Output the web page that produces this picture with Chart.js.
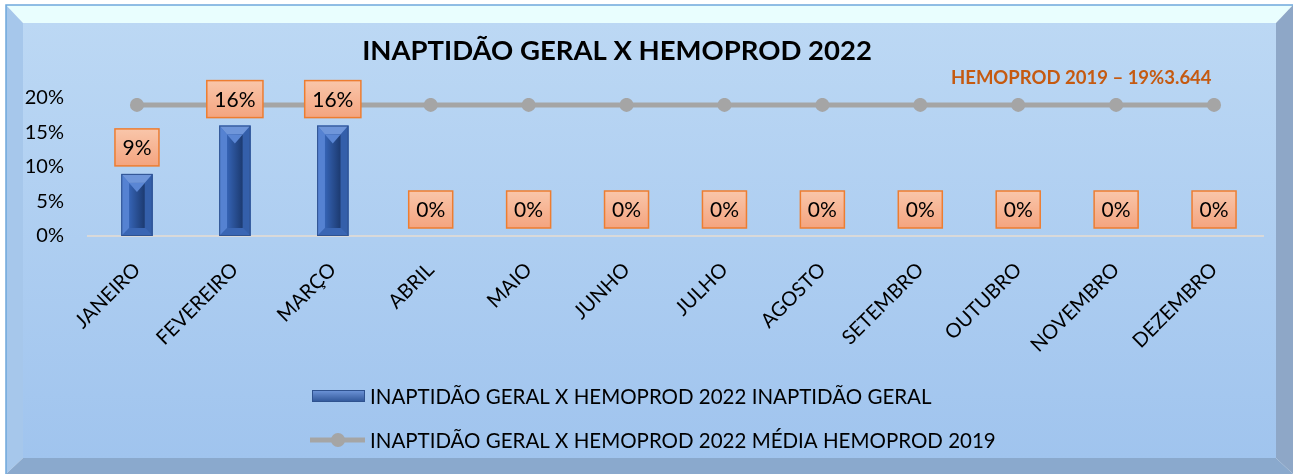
<!DOCTYPE html>
<html>
<head>
<meta charset="utf-8">
<script src="https://cdn.jsdelivr.net/npm/chart.js@4.4.1/dist/chart.umd.min.js"></script>
<style>
  html, body { margin: 0; padding: 0; background: #fff; }
  canvas { display: block; }
</style>
</head>
<body>
<canvas id="chart" width="1293" height="474"></canvas>
<script>
// data
const months = ['JANEIRO', 'FEVEREIRO', 'MARÇO', 'ABRIL', 'MAIO', 'JUNHO', 'JULHO', 'AGOSTO', 'SETEMBRO', 'OUTUBRO', 'NOVEMBRO', 'DEZEMBRO'];
const inaptidaoGeral = [9, 16, 16, 0, 0, 0, 0, 0, 0, 0, 0, 0];
const mediaHemoprod2019 = [19, 19, 19, 19, 19, 19, 19, 19, 19, 19, 19, 19];
const chartTitle = 'INAPTIDÃO GERAL X HEMOPROD 2022';
const noteText = 'HEMOPROD 2019 – 19%3.644';
const barLabel = 'INAPTIDÃO GERAL X HEMOPROD 2022 INAPTIDÃO GERAL';
const lineLabel = 'INAPTIDÃO GERAL X HEMOPROD 2022 MÉDIA HEMOPROD 2019';

const FONT = 'Lato, "Open Sans", sans-serif';

// bevelled frame + face behind the chart
const framePlugin = {
  id: 'frame',
  beforeDraw(chart) {
    const c = chart.ctx;
    const W = chart.width, H = chart.height;
    const L = 6, T = 5, IL = 23, IT = 23, IR = 1276, IB = 458;
    c.save();
    c.fillStyle = '#ffffff';
    c.fillRect(0, 0, W, H);
    // face
    const g = c.createLinearGradient(0, IT, 0, IB);
    g.addColorStop(0, '#BCD8F4');
    g.addColorStop(1, '#A0C4EE');
    c.fillStyle = g;
    c.fillRect(IL, IT, IR - IL, IB - IT);
    // top bevel
    c.fillStyle = '#E9FEFE';
    c.beginPath(); c.moveTo(L, T); c.lineTo(W, T); c.lineTo(IR, IT); c.lineTo(IL, IT); c.closePath(); c.fill();
    // left bevel
    c.fillStyle = '#A6C7EB';
    c.beginPath(); c.moveTo(L, T); c.lineTo(IL, IT); c.lineTo(IL, IB); c.lineTo(L, H); c.closePath(); c.fill();
    // right bevel
    c.fillStyle = '#8EA7C7';
    c.beginPath(); c.moveTo(W, T); c.lineTo(W, H); c.lineTo(IR, IB); c.lineTo(IR, IT); c.closePath(); c.fill();
    // bottom bevel
    c.fillStyle = '#8AA9CD';
    c.beginPath(); c.moveTo(L, H); c.lineTo(IL, IB); c.lineTo(IR, IB); c.lineTo(W, H); c.closePath(); c.fill();
    // outer edge
    c.strokeStyle = '#6FA8DC';
    c.lineWidth = 1.5;
    c.beginPath(); c.moveTo(L, H); c.lineTo(L, T); c.lineTo(W, T); c.stroke();
    c.restore();
  }
};

function drawBevelBar(c, left, top, right, bottom) {
  const w = right - left, h = bottom - top;
  if (h < 2) return;
  const ix = Math.min(8, w / 4), iy = Math.min(8, h / 3);
  const il = left + ix, ir = right - ix, it = top + iy + 1, ib = bottom - iy;
  c.save();
  c.fillStyle = '#4472C4';
  c.fillRect(left, top, w, h);
  // top facet
  c.fillStyle = '#6F96DA';
  c.beginPath(); c.moveTo(left, top); c.lineTo(right, top); c.lineTo(ir, it); c.lineTo(il, it); c.closePath(); c.fill();
  // left facet
  c.fillStyle = '#5582D2';
  c.beginPath(); c.moveTo(left, top); c.lineTo(il, it); c.lineTo(il, ib); c.lineTo(left, bottom); c.closePath(); c.fill();
  // right facet
  c.fillStyle = '#345FAA';
  c.beginPath(); c.moveTo(right, top); c.lineTo(right, bottom); c.lineTo(ir, ib); c.lineTo(ir, it); c.closePath(); c.fill();
  // bottom facet
  c.fillStyle = '#3A66B4';
  c.beginPath(); c.moveTo(left, bottom); c.lineTo(il, ib); c.lineTo(ir, ib); c.lineTo(right, bottom); c.closePath(); c.fill();
  // inner
  const g = c.createLinearGradient(il, 0, ir, 0);
  g.addColorStop(0, '#3563B4');
  g.addColorStop(1, '#1C3A70');
  c.fillStyle = g;
  c.fillRect(il, it, ir - il, ib - it);
  c.fillStyle = '#5A86D4';
  c.beginPath(); c.moveTo(il, it); c.lineTo(ir, it); c.lineTo((il + ir) / 2, it + Math.min(9, (ib - it) / 2)); c.closePath(); c.fill();
  c.strokeStyle = '#2F528F';
  c.lineWidth = 1;
  c.strokeRect(left + 0.5, top + 0.5, w - 1, h - 1);
  c.restore();
}

// bevel on top of the plain bars drawn by the library
const bevelPlugin = {
  id: 'bevel',
  afterDatasetDraw(chart, args) {
    if (args.index !== 0) return;
    const c = chart.ctx;
    args.meta.data.forEach(el => {
      const p = el.getProps(['x', 'y', 'width', 'base'], true);
      drawBevelBar(c, p.x - p.width / 2, p.y, p.x + p.width / 2, p.base);
    });
  }
};

// orange boxed value labels, title, note and legend
const labelsPlugin = {
  id: 'labels',
  afterDraw(chart) {
    const c = chart.ctx;
    c.save();
    // value labels
    const meta = chart.getDatasetMeta(0);
    c.font = '21px ' + FONT;
    c.textAlign = 'center';
    c.textBaseline = 'middle';
    meta.data.forEach((el, i) => {
      const txt = inaptidaoGeral[i] + '%';
      const bw = c.measureText(txt).width + 15, bh = 37;
      const cx = el.x, by = el.y - 8;
      const g = c.createLinearGradient(0, by - bh, 0, by);
      g.addColorStop(0, '#F9C6AA');
      g.addColorStop(1, '#F4A47F');
      c.fillStyle = g;
      c.fillRect(cx - bw / 2, by - bh, bw, bh);
      c.strokeStyle = '#ED7D31';
      c.lineWidth = 1.5;
      c.strokeRect(cx - bw / 2, by - bh, bw, bh);
      c.fillStyle = '#000';
      c.fillText(txt, cx, by - bh / 2 + 1);
    });
    // title
    c.font = 'bold 27.5px ' + FONT;
    c.fillStyle = '#000';
    c.fillText(chartTitle, 617, 51);
    // note
    c.font = 'bold 18.5px ' + FONT;
    c.fillStyle = '#C55A11';
    c.textAlign = 'left';
    c.fillText(noteText, 951, 78);
    // legend
    c.font = '20.5px ' + FONT;
    c.fillStyle = '#000';
    const lx = 312, tx = 370, y1 = 396, y2 = 440;
    const lg = c.createLinearGradient(0, y1 - 6, 0, y1 + 6);
    lg.addColorStop(0, '#6F96DA');
    lg.addColorStop(1, '#2F5597');
    c.fillStyle = lg;
    c.fillRect(lx, y1 - 6, 53, 12);
    c.strokeStyle = '#2F528F';
    c.lineWidth = 1;
    c.strokeRect(lx + 0.5, y1 - 5.5, 52, 11);
    c.strokeStyle = '#A5A5A5';
    c.lineWidth = 5;
    c.beginPath(); c.moveTo(lx - 2, y2); c.lineTo(lx + 53, y2); c.stroke();
    c.fillStyle = '#A5A5A5';
    c.beginPath(); c.arc(lx + 26, y2, 7, 0, Math.PI * 2); c.fill();
    c.fillStyle = '#000';
    c.fillText(chart.data.datasets[0].label, tx, y1 + 1);
    c.fillText(chart.data.datasets[1].label, tx, y2 + 1);
    c.restore();
  }
};

new Chart(document.getElementById('chart'), {
  data: {
    labels: months,
    datasets: [
      {
        type: 'bar',
        label: barLabel,
        data: inaptidaoGeral,
        backgroundColor: '#4472C4',
        borderWidth: 0,
        barPercentage: 0.32,
        categoryPercentage: 1,
        order: 2
      },
      {
        type: 'line',
        label: lineLabel,
        data: mediaHemoprod2019,
        borderColor: '#A5A5A5',
        backgroundColor: '#A5A5A5',
        borderWidth: 5,
        pointRadius: 7,
        pointBackgroundColor: '#A5A5A5',
        pointBorderWidth: 0,
        order: 1
      }
    ]
  },
  options: {
    responsive: false,
    animation: false,
    layout: { padding: { left: 0, right: 30, top: 98, bottom: 100 } },
    scales: {
      x: {
        offset: true,
        grid: { display: false },
        border: { color: '#D9D9D9', width: 2 },
        ticks: {
          color: '#000',
          font: { family: FONT, size: 20 },
          minRotation: 45,
          maxRotation: 45,
          padding: 14
        },
        afterFit(scale) { scale.height = 138; }
      },
      y: {
        min: 0,
        max: 20,
        grid: { display: false },
        border: { display: false },
        ticks: {
          stepSize: 5,
          color: '#000',
          font: { family: FONT, size: 20 },
          padding: 16,
          callback: v => v + '%'
        },
        afterFit(scale) { scale.width = 88; }
      }
    },
    plugins: {
      legend: { display: false },
      tooltip: { enabled: false }
    }
  },
  plugins: [framePlugin, bevelPlugin, labelsPlugin]
});
</script>
</body>
</html>
